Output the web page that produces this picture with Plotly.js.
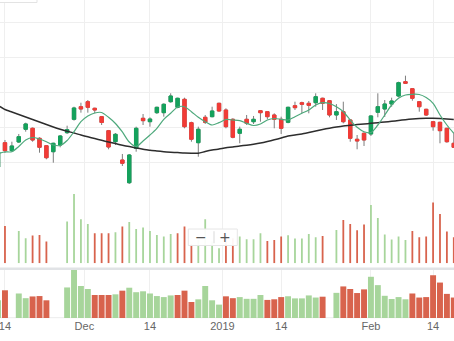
<!DOCTYPE html>
<html>
<head>
<meta charset="utf-8">
<script src="https://cdn.plot.ly/plotly-3.0.1.min.js"></script>
<style>
  html, body { margin: 0; padding: 0; background: #ffffff; }
  #chart { width: 454px; height: 341px; }
</style>
</head>
<body>
<div id="chart"></div>
<script>
// ---- Data ----
const dates = [
  "2018-11-13","2018-11-14","2018-11-15","2018-11-16","2018-11-19","2018-11-20","2018-11-21","2018-11-23",
  "2018-11-26","2018-11-27","2018-11-28","2018-11-29","2018-11-30",
  "2018-12-03","2018-12-04","2018-12-05","2018-12-06","2018-12-07","2018-12-10","2018-12-11","2018-12-12",
  "2018-12-13","2018-12-14","2018-12-17","2018-12-18","2018-12-19","2018-12-20","2018-12-21","2018-12-24",
  "2018-12-26","2018-12-27","2018-12-28","2018-12-31",
  "2019-01-02","2019-01-03","2019-01-04","2019-01-07","2019-01-08","2019-01-09","2019-01-10","2019-01-11",
  "2019-01-14","2019-01-15","2019-01-16","2019-01-17","2019-01-18","2019-01-22","2019-01-23","2019-01-24",
  "2019-01-25","2019-01-28","2019-01-29","2019-01-30","2019-01-31",
  "2019-02-01","2019-02-04","2019-02-05","2019-02-06","2019-02-07","2019-02-08","2019-02-11","2019-02-12",
  "2019-02-13","2019-02-14","2019-02-15","2019-02-19","2019-02-20"
];

const open = [
  108.77,115.70,113.42,115.90,119.52,119.80,116.95,114.84,113.13,115.04,118.55,122.36,125.95,
  127.38,125.50,123.11,119.12,115.98,110.77,104.30,114.10,122.65,121.68,124.25,124.25,127.38,
  125.78,128.06,121.40,115.70,122.93,123.11,126.92,125.01,122.36,118.38,122.36,121.68,124.81,
  124.53,123.59,122.36,121.51,126.24,127.09,126.92,127.09,128.35,127.66,123.59,124.53,122.17,
  116.67,118.38,118.18,124.36,125.30,126.72,129.00,133.08,131.08,127.38,125.21,121.68,121.51,
  119.80,115.53
];
const high = [
  113.62,116.47,115.98,118.18,121.40,120.03,117.24,115.04,115.70,117.89,120.54,125.95,127.09,
  127.86,125.67,123.31,119.32,118.46,112.48,112.48,120.26,123.87,122.93,125.95,126.92,129.77,
  128.52,128.52,121.68,120.26,123.59,125.95,127.09,125.50,122.65,120.26,123.59,123.31,125.01,
  124.64,124.07,123.11,125.95,127.38,127.38,127.58,129.77,128.52,127.86,126.70,127.38,122.31,
  117.89,118.60,123.50,129.77,127.86,128.52,133.08,134.79,131.20,127.58,125.36,121.88,121.65,
  119.94,118.46
];
const low = [
  108.20,112.76,113.13,115.61,118.83,115.98,112.85,110.97,110.00,114.39,118.18,121.97,124.25,
  124.25,124.07,120.74,113.82,115.04,109.06,103.93,113.13,120.74,120.26,123.87,123.11,127.09,
  125.50,119.80,115.98,111.71,121.03,122.93,124.53,119.80,116.95,115.53,120.74,121.03,121.68,
  122.36,119.80,118.18,121.22,125.01,124.07,124.07,125.95,125.01,122.93,122.17,121.22,115.98,
  113.82,114.76,117.61,122.93,123.02,125.95,128.63,132.42,127.66,124.53,123.31,119.12,115.53,
  115.70,114.19
];
const close = [
  113.05,113.42,114.76,117.41,121.03,116.46,114.39,111.42,115.53,117.61,119.40,125.58,125.30,
  125.78,125.01,121.45,114.47,118.09,109.83,112.19,119.80,121.97,122.45,125.78,126.64,129.00,
  128.35,120.26,116.67,119.52,121.51,124.73,124.73,120.26,117.24,119.52,121.22,122.36,124.25,
  123.11,122.36,119.80,125.78,125.67,126.64,126.35,128.80,126.92,123.59,124.53,121.68,116.95,
  116.18,116.47,123.31,125.95,126.72,127.58,132.79,132.62,128.35,125.95,123.59,120.26,119.12,
  115.98,114.39
];

const maFast = [
  112.62,113.05,113.13,114.62,116.47,117.18,116.75,115.98,115.04,114.90,116.32,118.83,121.68,
  123.31,124.16,124.30,122.93,121.17,118.75,115.90,114.62,116.18,117.89,119.80,122.36,124.07,
  125.87,125.95,124.53,122.93,121.68,120.74,121.40,122.31,122.17,121.97,121.22,120.60,121.03,
  122.17,122.59,122.36,122.17,123.11,124.07,125.01,126.44,127.09,126.87,125.95,124.53,122.17,
  120.09,118.83,118.60,120.74,123.59,126.44,128.35,129.29,129.49,129.43,128.58,126.92,123.59,
  120.74,118.38
];
const maSlow = [
  126.30,125.16,124.44,123.73,123.02,122.31,121.60,120.88,120.17,119.52,118.95,118.46,117.89,
  117.38,116.87,116.38,115.90,115.44,114.99,114.59,114.19,113.85,113.53,113.33,113.13,112.99,
  112.88,112.76,112.71,112.68,113.19,113.62,113.90,114.25,114.47,114.76,114.99,115.27,115.61,
  116.04,116.52,117.04,117.61,117.89,118.18,118.60,119.03,119.46,119.83,120.17,120.46,120.66,
  120.85,121.03,121.23,121.40,121.60,121.80,122.02,122.25,122.45,122.59,122.68,122.68,122.59,
  122.45,122.31
];

// volume (millions), null = no bar drawn
const volume = [
  21.7,37.3,null,32.3,25.0,27.7,28.3,21.7,null,null,41.7,69.3,44.0,
  39.3,30.0,30.0,30.0,31.0,36.7,41.3,34.3,35.7,32.3,28.3,26.7,29.3,
  30.0,36.7,19.1,23.2,44.0,21.7,15.0,27.9,25.0,26.7,24.0,24.0,30.0,
  22.3,23.3,26.7,28.0,24.7,24.7,29.3,26.0,27.3,null,33.3,43.3,39.3,
  33.0,38.7,58.3,45.3,28.7,23.7,26.7,23.3,32.3,26.0,26.7,60.7,49.3,
  31.7,26.0
];
const volumeDir = [
  "u","d","u","u","u","d","d","d","u","u","u","u","u",
  "u","d","d","d","u","d","u","u","u","u","u","u","u",
  "d","d","d","u","u","u","u","d","d","u","u","u","u",
  "d","d","d","u","u","u","u","u","d","d","u","d","d",
  "d","d","u","u","u","u","u","u","d","d","d","d","d",
  "d","d"
];

const tickDates  = ["2018-11-14","2018-12-01","2018-12-14","2019-01-01","2019-01-14","2019-02-01","2019-02-14"];
const tickLabels = ["14","Dec","14","2019","14","Feb","14"];

// ---- Build ----
const xs = dates.map((d, i) => i);
function datePos(d) {
  const i = dates.indexOf(d);
  if (i >= 0) return i;
  const j = dates.findIndex(v => v > d);
  return j - 0.5;
}
const tickVals = tickDates.map(datePos);

const GREEN_C = "#14a25c", RED_C = "#f23b36", WICK = "#7d7d7d";
const VOL_UP = "#a7d59b", VOL_DN = "#d8634d";
const volColors = volumeDir.map(d => d === "u" ? VOL_UP : VOL_DN);

const navMin = -5.83;
const navLen = volume.map(v => v == null ? null : v - navMin);

const bodyHigh = open.map((o, i) => Math.max(o, close[i]));
const bodyLow  = open.map((o, i) => Math.min(o, close[i]));

const traces = [
  { type: "bar", x: xs, y: navLen, base: navMin, width: 0.86, yaxis: "y3",
    marker: { color: volColors, line: { width: 0 } }, hoverinfo: "skip" },
  { type: "bar", x: xs, y: volume, width: 0.26, yaxis: "y2",
    marker: { color: volColors, line: { width: 0 } }, hoverinfo: "skip" },
  { type: "scatter", mode: "lines", x: xs, y: maSlow, yaxis: "y",
    line: { color: "#2d2d2d", width: 1.5, shape: "spline", smoothing: 0.6 }, hoverinfo: "skip" },
  { type: "scatter", mode: "lines", x: xs, y: maFast, yaxis: "y",
    line: { color: "#4ea97c", width: 1.2, shape: "spline", smoothing: 0.8 }, hoverinfo: "skip" },
  { type: "candlestick", x: xs, open: open, high: high, low: low, close: close, yaxis: "y",
    whiskerwidth: 0,
    increasing: { line: { color: WICK, width: 1 }, fillcolor: WICK },
    decreasing: { line: { color: WICK, width: 1 }, fillcolor: WICK },
    hoverinfo: "skip" },
  { type: "candlestick", x: xs, open: open, high: bodyHigh, low: bodyLow, close: close, yaxis: "y",
    whiskerwidth: 0,
    increasing: { line: { color: GREEN_C, width: 1 }, fillcolor: GREEN_C },
    decreasing: { line: { color: RED_C, width: 1 }, fillcolor: RED_C },
    hoverinfo: "skip" }
];

const H = 318; // plot area height in px
const layout = {
  width: 454, height: 341,
  margin: { l: 0, r: 0, t: 0, b: 23, pad: 0 },
  paper_bgcolor: "#ffffff", plot_bgcolor: "rgba(0,0,0,0)",
  showlegend: false,
  barmode: "overlay",
  boxmode: "overlay",
  xaxis: {
    type: "linear", range: [0.28, 66.03], anchor: "y3",
    tickmode: "array", tickvals: tickVals, ticktext: tickLabels,
    ticklabeloverflow: "allow",
    showgrid: true, gridcolor: "#efefef", gridwidth: 1,
    zeroline: false, showline: false, ticks: "",
    tickfont: { family: "Liberation Sans, Arial, sans-serif", size: 11, color: "#666666" },
    rangeslider: { visible: false }, fixedrange: true
  },
  yaxis: {
    domain: [(H - 197.8) / H, 1], range: [100, 156.35],
    tick0: 100, dtick: 10, showticklabels: false,
    showgrid: true, gridcolor: "#efefef", zeroline: false, showline: false, ticks: "", fixedrange: true
  },
  yaxis2: {
    domain: [(H - 263.3) / H, (H - 190) / H], range: [0, 73.3], anchor: "x",
    showgrid: false, showticklabels: false, zeroline: false, showline: false, ticks: "", fixedrange: true
  },
  yaxis3: {
    domain: [0, 49 / H], range: [navMin, 70.4], anchor: "x",
    showgrid: false, showticklabels: false, zeroline: false, showline: false, ticks: "", fixedrange: true
  },
  shapes: [
    { type: "line", xref: "paper", yref: "paper", x0: 0, x1: 1,
      y0: (H - 268.7) / H, y1: (H - 268.7) / H, line: { color: "#e1e3e6", width: 2.5 }, layer: "above" },
    { type: "line", xref: "paper", yref: "paper", x0: 0, x1: 1,
      y0: 0.001, y1: 0.001, line: { color: "#ececec", width: 1 }, layer: "below" },
    { type: "rect", xref: "paper", yref: "paper", x0: -0.02, x1: 37 / 454,
      y0: (H - 2.5) / H, y1: 1.05, line: { color: "#e3e3e3", width: 1 }, fillcolor: "#ffffff", layer: "above" },
    { type: "rect", xref: "paper", yref: "paper", x0: 188.3 / 454, x1: 237.3 / 454,
      y0: (H - 245.5) / H, y1: (H - 229) / H,
      line: { color: "#e6e6e6", width: 1 }, fillcolor: "rgba(255,255,255,0.94)", layer: "above" },
    { type: "line", xref: "paper", yref: "paper", x0: 214 / 454, x1: 214 / 454,
      y0: (H - 243.3) / H, y1: (H - 231.2) / H, line: { color: "#d9d9d9", width: 1 }, layer: "above" }
  ],
  annotations: [
    { xref: "paper", yref: "paper", x: 200.5 / 454, y: (H - 237.3) / H, text: "−", showarrow: false,
      font: { family: "DejaVu Sans, sans-serif", size: 14, color: "#555555" }, xanchor: "center", yanchor: "middle" },
    { xref: "paper", yref: "paper", x: 224.8 / 454, y: (H - 237.3) / H, text: "+", showarrow: false,
      font: { family: "DejaVu Sans, sans-serif", size: 14, color: "#555555" }, xanchor: "center", yanchor: "middle" }
  ]
};

Plotly.newPlot("chart", traces, layout, { displayModeBar: false, staticPlot: true, responsive: false });
</script>
</body>
</html>
